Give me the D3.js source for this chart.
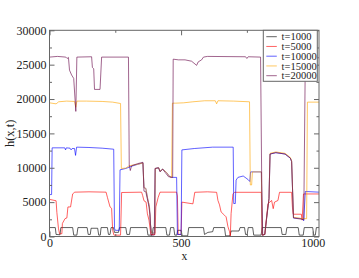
<!DOCTYPE html>
<html>
<head>
<meta charset="utf-8">
<script src="https://cdn.jsdelivr.net/npm/d3@7"></script>
<style>
  body { margin: 0; background: #fff; }
  svg { display: block; }
  text { font-family: "Liberation Serif", "DejaVu Serif", serif; fill: #222; }
</style>
</head>
<body>
<svg id="chart" width="359" height="278"></svg>
<script>
// profiles h(x,t), as [x, h] breakpoints
const t1000 = [[0,1300],[22,1300],[25,300],[40,250],[43,1300],[88,1300],[92,200],[104,200],[108,1300],[143,1300],[147,300],[155,300],[158,1200],[183,1200],[187,200],[193,200],[196,1300],[220,1300],[224,300],[230,300],[234,1300],[243,1300],[247,600],[262,600],[266,1300],[290,1300],[294,300],[304,300],[308,1300],[370,1300],[374,200],[390,200],[394,1300],[442,1300],[446,200],[456,200],[460,1300],[472,1300],[476,200],[484,200],[487,900],[500,900],[504,100],[525,100],[529,1300],[585,1300],[589,300],[602,600],[620,700],[624,1300],[665,1300],[669,100],[686,100],[690,800],[720,800],[724,1300],[741,1300],[745,300],[751,300],[755,1300],[772,1300],[776,200],[804,200],[808,1300],[880,1300],[884,300],[898,300],[902,1300],[945,1300],[949,200],[964,200],[968,1300],[1000,1300],[1004,200],[1010,200],[1014,1300],[1024,1300]];

const t5000 = [[0,5400],[25,5200],[28,3500],[34,1200],[38,400],[47,400],[49,1900],[59,2600],[66,2700],[70,4300],[80,4300],[88,6200],[96,6450],[150,6500],[215,6450],[220,5700],[230,4300],[236,4100],[240,900],[245,200],[270,200],[274,6400],[350,6450],[354,5950],[359,5200],[367,5000],[372,3300],[378,2400],[385,300],[401,300],[404,4300],[413,5700],[420,6450],[483,6450],[486,5900],[489,300],[500,300],[503,5000],[545,4750],[552,6430],[600,6500],[635,6430],[640,5240],[646,4600],[652,3570],[665,3090],[671,2860],[678,1430],[684,700],[687,100],[690,3330],[697,6190],[703,6430],[805,6430],[808,200],[818,300],[830,4760],[844,5240],[850,4050],[855,5000],[868,5240],[874,6430],[920,6430],[923,4280],[926,3240],[957,3240],[960,2380],[965,6190],[1024,6190]];

const t10000 = [[0,6100],[8,6100],[10,12900],[58,12900],[61,12600],[64,12900],[78,12850],[82,12600],[86,12800],[95,12800],[99,11800],[103,13000],[150,12950],[200,12850],[244,12700],[247,1200],[250,900],[265,900],[268,9700],[290,9900],[310,10200],[335,10500],[355,10700],[359,7100],[366,7000],[373,5500],[380,4300],[383,1900],[388,500],[400,500],[402,9900],[415,10000],[420,9500],[430,9800],[445,9300],[457,8700],[462,8600],[483,8600],[486,300],[500,300],[503,12600],[550,12800],[620,13000],[698,13000],[700,4800],[706,4800],[709,8200],[716,8600],[736,8800],[754,8300],[761,8000],[764,9400],[805,9400],[808,200],[818,300],[826,3000],[834,5500],[838,12000],[860,12200],[895,12000],[915,11400],[920,10900],[927,2700],[960,2600],[966,2300],[972,6550],[1024,6450]];

const t15000 = [[0,19450],[25,19300],[35,19600],[65,19700],[95,19650],[100,18800],[104,19700],[140,19700],[200,19650],[240,19550],[270,19350],[273,9900],[290,9950],[303,10300],[335,10500],[355,10700],[359,7100],[366,7000],[373,5500],[380,4300],[383,1900],[388,500],[400,500],[402,9900],[415,10000],[420,9500],[430,9800],[445,9300],[457,8700],[464,8600],[467,19400],[480,19400],[510,19450],[545,19600],[590,19750],[630,19750],[635,19300],[640,19750],[700,19700],[760,19600],[763,7500],[768,7500],[771,9400],[805,9400],[808,200],[818,300],[826,3000],[834,5500],[838,12100],[860,12300],[895,12100],[915,11500],[920,11000],[927,2800],[960,2600],[977,2600],[980,19550],[1024,19550]];

const t20000 = [[0,26100],[30,26200],[62,26100],[67,25900],[72,26050],[76,24200],[84,23500],[92,23000],[100,18200],[104,26100],[160,26150],[163,24600],[168,24400],[171,21400],[192,21400],[198,26100],[300,26100],[303,10400],[307,9600],[312,10300],[335,10600],[355,10800],[359,6600],[366,6500],[376,4700],[382,3200],[386,200],[398,200],[401,9900],[414,10000],[420,9400],[430,9800],[440,9300],[452,8700],[468,8600],[470,25800],[490,25700],[515,25700],[540,25500],[559,24900],[565,25400],[578,25700],[585,26100],[600,26200],[745,26150],[750,25900],[755,26150],[802,26100],[806,9400],[810,200],[818,300],[826,3000],[834,5500],[838,12000],[860,12200],[895,12000],[915,11400],[920,10900],[927,2700],[960,2500],[966,2400],[972,26000],[1024,26000]];

const seriesNames = ['t=1000', 't=5000', 't=10000', 't=15000', 't=20000'];
const seriesData = [t1000, t5000, t10000, t15000, t20000];
const seriesColors = ['#000000', '#ff0000', '#0000ff', '#ffa500', '#670748'];

const xTicks = [0, 500, 1000];
const xMinor = [250, 750];
const yTicks = [0, 5000, 10000, 15000, 20000, 25000, 30000];
const yMinor = [2500, 7500, 12500, 17500, 22500, 27500];

const margin = {left: 49.5, right: 40, top: 30.3, bottom: 41.5};
const width = 359, height = 278;

const svg = d3.select('#chart');

const x = d3.scaleLinear()
    .domain([0, 1024])
    .range([margin.left, width - margin.right]);
const y = d3.scaleLinear()
    .domain([0, 30000])
    .range([height - margin.bottom, margin.top]);

// lines
let line = d3.line()
    .x(d => x(d[0]))
    .y(d => y(d[1]));

svg.append('g')
    .selectAll('path')
    .data(seriesData)
    .enter().append('path')
    .attr('fill', 'none')
    .attr('stroke', (d, i) => seriesColors[i])
    .attr('stroke-opacity', 0.62)
    .attr('stroke-width', 1)
    .attr('d', line);

// axes, ticks pointing inward on all four sides
const axisColor = '#666';
const styleAxis = g => {
    g.select('.domain').remove();
    g.selectAll('.tick line').attr('stroke', axisColor);
    g.selectAll('.tick text').style('font-size', '12px').attr('fill', '#222');
};

svg.append('g')
    .attr('transform', 'translate(0,' + y.range()[0] + ')')
    .call(d3.axisBottom(x).tickValues(xTicks).tickSizeInner(-5).tickSizeOuter(0).tickPadding(1.5).tickFormat(d3.format('d')))
    .call(styleAxis);
svg.append('g')
    .attr('transform', 'translate(0,' + y.range()[0] + ')')
    .call(d3.axisBottom(x).tickValues(xMinor).tickSizeInner(-2.5).tickSizeOuter(0).tickFormat(''))
    .call(styleAxis);
svg.append('g')
    .attr('transform', 'translate(0,' + y.range()[1] + ')')
    .call(d3.axisTop(x).tickValues(xTicks).tickSizeInner(-5).tickSizeOuter(0).tickFormat(''))
    .call(styleAxis);
svg.append('g')
    .attr('transform', 'translate(0,' + y.range()[1] + ')')
    .call(d3.axisTop(x).tickValues(xMinor).tickSizeInner(-2.5).tickSizeOuter(0).tickFormat(''))
    .call(styleAxis);

svg.append('g')
    .attr('transform', 'translate(' + x.range()[0] + ',0)')
    .call(d3.axisLeft(y).tickValues(yTicks).tickSizeInner(-5).tickSizeOuter(0).tickPadding(3).tickFormat(d3.format('d')))
    .call(styleAxis);
svg.append('g')
    .attr('transform', 'translate(' + x.range()[0] + ',0)')
    .call(d3.axisLeft(y).tickValues(yMinor).tickSizeInner(-2.5).tickSizeOuter(0).tickFormat(''))
    .call(styleAxis);
svg.append('g')
    .attr('transform', 'translate(' + x.range()[1] + ',0)')
    .call(d3.axisRight(y).tickValues(yTicks).tickSizeInner(-5).tickSizeOuter(0).tickFormat(''))
    .call(styleAxis);
svg.append('g')
    .attr('transform', 'translate(' + x.range()[1] + ',0)')
    .call(d3.axisRight(y).tickValues(yMinor).tickSizeInner(-2.5).tickSizeOuter(0).tickFormat(''))
    .call(styleAxis);

// frame
svg.append('rect')
    .attr('x', x.range()[0])
    .attr('y', y.range()[1])
    .attr('width', x.range()[1] - x.range()[0])
    .attr('height', y.range()[0] - y.range()[1])
    .attr('fill', 'none')
    .attr('stroke', axisColor)
    .attr('stroke-width', 1);

// axis titles
svg.append('text')
    .attr('x', (x.range()[0] + x.range()[1]) / 2)
    .attr('y', 259.5)
    .attr('text-anchor', 'middle')
    .style('font-size', '11.5px')
    .text('x');
svg.append('text')
    .attr('transform', 'translate(14,' + (y.range()[0] + y.range()[1]) / 2 + ')rotate(-90)')
    .attr('text-anchor', 'middle')
    .style('font-size', '12.5px')
    .text('h(x,t)');

// legend
const legend = svg.append('g').attr('transform', 'translate(263.3,' + y.range()[1] + ')');
legend.append('rect')
    .attr('width', 54)
    .attr('height', 51)
    .attr('fill', '#fff')
    .attr('stroke', axisColor)
    .attr('stroke-width', 1);
const rows = legend.selectAll('g.row')
    .data(seriesNames)
    .enter().append('g')
    .attr('class', 'row')
    .attr('transform', (d, i) => 'translate(0,' + (6.4 + i * 9.75) + ')');
rows.append('line')
    .attr('x1', 3).attr('x2', 13.5)
    .attr('stroke', (d, i) => seriesColors[i])
    .attr('stroke-opacity', 0.62)
    .attr('stroke-width', 1);
rows.append('text')
    .attr('x', 18.3)
    .attr('dy', '0.35em')
    .style('font-size', '10.5px')
    .text(d => d);
</script>
</body>
</html>
